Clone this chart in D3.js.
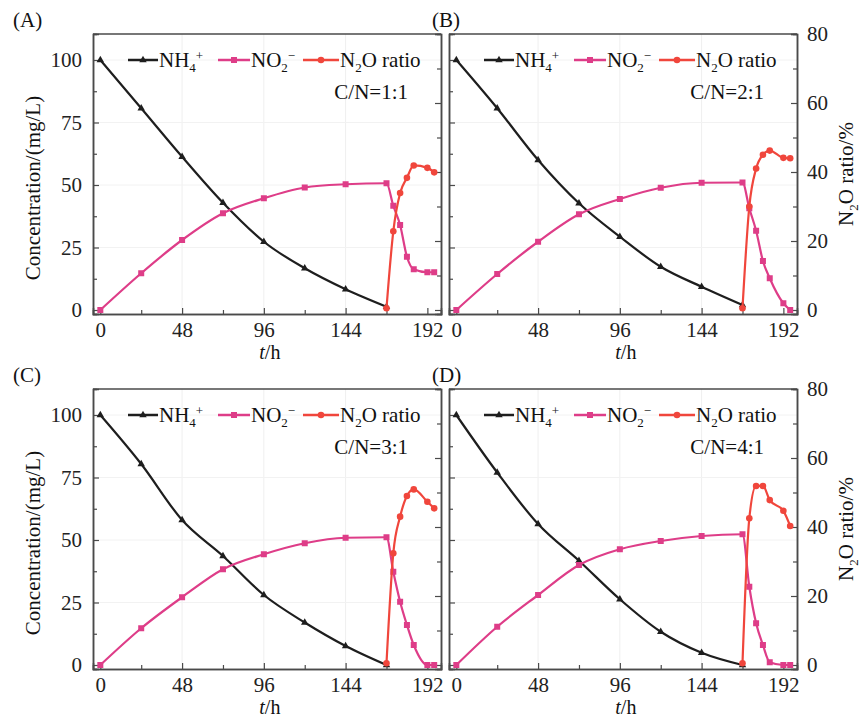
<!DOCTYPE html>
<html>
<head>
<meta charset="utf-8">
<script src="https://cdn.jsdelivr.net/npm/d3@7"></script>
<style>
  body { margin: 0; background: #fff; }
  svg { display: block; }
  svg text { font-family: "Liberation Serif", "Times New Roman", Tinos, "DejaVu Serif", serif; }
</style>
</head>
<body>
<svg id="chart" width="862" height="717"></svg>
<script>
// sampling times (h)
const hours = [0, 24, 48, 72, 96, 120, 144, 168];
const tailHours = [168, 172, 176, 180, 184, 192, 196];
const no2Hours = hours.concat(tailHours.slice(1));

// tick values
const xMajor = [0, 48, 96, 144, 192];
const xMinor = [24, 72, 120, 168];
const concMajor = [0, 25, 50, 75, 100];
const concMinor = [12.5, 37.5, 62.5, 87.5];
const ratioMajor = [0, 20, 40, 60, 80];
const ratioMinor = [10, 30, 50, 70];

const panelLetters = ["(A)", "(B)", "(C)", "(D)"];
const ratios = ["C/N=1:1", "C/N=2:1", "C/N=3:1", "C/N=4:1"];

// NH4+ (mg/L)
const nh4A = [100, 80.7, 61.3, 42.9, 27.3, 16.7, 8.3, 1.3];
const nh4B = [100, 80.7, 60, 42.7, 29.3, 17.3, 9.3, 2];
const nh4C = [100, 80.4, 58, 43.6, 28, 17, 7.6, 0];
const nh4D = [100, 77, 56.4, 41.7, 26.3, 13.3, 4.9, 0];

// NO2- (mg/L)
const no2A = [0, 14.7, 28, 38.7, 44.7, 49, 50.3, 50.7, 41.7, 34, 21.3, 16.3, 15.1, 15.1];
const no2B = [0, 14.4, 27.3, 38.3, 44.4, 48.9, 50.9, 51, 40.7, 31.7, 19.6, 12.7, 2.7, 0];
const no2C = [0, 14.7, 27.1, 38.3, 44.3, 48.7, 50.9, 51.1, 37.3, 25.3, 16, 8, 0, 0];
const no2D = [0, 15.3, 28, 40, 46.3, 49.6, 51.6, 52.3, 31.3, 16.7, 8, 1.1, 0, 0];

// N2O ratio (%)
const n2oA = [0.5, 22.8, 33.9, 38.3, 41.9, 41.2, 39.9];
const n2oB = [0.5, 30, 41, 45, 46.2, 44.1, 44];
const n2oC = [0.5, 32.4, 43, 49, 50.9, 47.3, 45.4];
const n2oD = [0.5, 42.5, 51.9, 51.9, 47.8, 44.7, 40.3];

const colors = { nh4: "#1e1e1e", no2: "#de3d88", n2o: "#f0463c", axis: "#4a4a4a" };
const serif = "'Liberation Serif', 'Times New Roman', Tinos, 'DejaVu Serif', serif";

const panels = [
  { nh4: nh4A, no2: no2A, n2o: n2oA, left: 93, top: 34, leftLabels: true },
  { nh4: nh4B, no2: no2B, n2o: n2oB, left: 449, top: 34, leftLabels: false },
  { nh4: nh4C, no2: no2C, n2o: n2oC, left: 93, top: 389, leftLabels: true },
  { nh4: nh4D, no2: no2D, n2o: n2oD, left: 449, top: 389, leftLabels: false }
];
const pw = 348, ph = 280;

const svg = d3.select("#chart");

function addSubSup(text, parts) {
  // parts: [string, kind] where kind is "", "sub" or "sup"
  let shift = 0;
  parts.forEach(([s, kind]) => {
    const target = kind === "sub" ? 5 : kind === "sup" ? -7 : 0;
    text.append("tspan")
      .attr("dy", target - shift)
      .attr("font-size", kind ? 13 : null)
      .text(s);
    shift = target;
  });
}

function marker(g, type, x, y, color) {
  if (type === "tri") {
    g.append("path")
      .attr("d", d3.symbol().type(d3.symbolTriangle).size(24)())
      .attr("transform", `translate(${x},${y})`)
      .attr("fill", color);
  } else if (type === "sq") {
    g.append("rect")
      .attr("x", x - 3).attr("y", y - 3)
      .attr("width", 6).attr("height", 6)
      .attr("fill", color);
  } else {
    g.append("circle")
      .attr("cx", x).attr("cy", y).attr("r", 3.3)
      .attr("fill", color);
  }
}

panels.forEach((p, i) => {
  const g = svg.append("g").attr("transform", `translate(${p.left},${p.top})`);

  const x = d3.scaleLinear().domain([-4.3, 200]).range([0, pw]);
  const yL = d3.scaleLinear().domain([-1.6, 110.4]).range([ph, 0]);
  const yR = d3.scaleLinear().domain([-1.16, 80]).range([ph, 0]);

  // faint grid
  g.append("g").selectAll("line").data(xMajor.slice(1, 4)).join("line")
    .attr("x1", d => x(d)).attr("x2", d => x(d))
    .attr("y1", 0).attr("y2", ph)
    .attr("stroke", "#efefef");
  g.append("g").selectAll("line").data(concMajor.slice(1)).join("line")
    .attr("x1", 0).attr("x2", pw)
    .attr("y1", d => yL(d)).attr("y2", d => yL(d))
    .attr("stroke", "#f2f2f2");

  // axes with inward ticks
  const bottom = g.append("g").attr("transform", `translate(0,${ph})`);
  bottom.call(d3.axisBottom(x).tickValues(xMajor).tickSize(-6).tickPadding(8));
  bottom.append("g").call(d3.axisBottom(x).tickValues(xMinor).tickSize(-4).tickFormat(""));

  const leftAx = g.append("g");
  leftAx.call(d3.axisLeft(yL).tickValues(concMajor).tickSize(-6).tickPadding(11)
    .tickFormat(p.leftLabels ? d3.format("d") : ""));
  leftAx.append("g").call(d3.axisLeft(yL).tickValues(concMinor).tickSize(-4).tickFormat(""));

  const rightAx = g.append("g").attr("transform", `translate(${pw},0)`);
  rightAx.call(d3.axisRight(yR).tickValues(ratioMajor).tickSize(-6).tickPadding(10)
    .tickFormat(p.leftLabels ? "" : d3.format("d")));
  rightAx.append("g").call(d3.axisRight(yR).tickValues(ratioMinor).tickSize(-4).tickFormat(""));

  g.append("line").attr("x1", 0).attr("x2", pw).attr("y1", 0).attr("y2", 0)
    .attr("stroke", colors.axis).attr("stroke-width", 1.5);

  g.selectAll(".domain").attr("stroke", colors.axis).attr("stroke-width", 1.5);
  g.selectAll(".tick line").attr("stroke", colors.axis).attr("stroke-width", 1.2);
  g.selectAll("g").attr("font-family", serif);
  g.selectAll(".tick text").attr("font-size", 21).attr("fill", "#222")
    .attr("font-family", serif);

  // series
  const line = (xs, ys, yScale) => d3.line()
    .x((d, k) => x(xs[k]))
    .y(d => yScale(d))
    .curve(d3.curveMonotoneX)(ys);

  const series = [
    { xs: hours, ys: p.nh4, scale: yL, color: colors.nh4, m: "tri" },
    { xs: no2Hours, ys: p.no2, scale: yL, color: colors.no2, m: "sq" },
    { xs: tailHours, ys: p.n2o, scale: yR, color: colors.n2o, m: "circ" }
  ];
  series.forEach(s => {
    g.append("path")
      .attr("d", line(s.xs, s.ys, s.scale))
      .attr("fill", "none")
      .attr("stroke", s.color)
      .attr("stroke-width", 2.2);
    const mg = g.append("g");
    s.ys.forEach((v, k) => marker(mg, s.m, x(s.xs[k]), s.scale(v), s.color));
  });

  // legend
  const lg = g.append("g").attr("font-size", 21).attr("fill", "#111").attr("font-family", serif);
  const legendItems = [
    { x0: 35, len: 30, color: colors.nh4, m: "tri", parts: [["NH", ""], ["4", "sub"], ["+", "sup"]] },
    { x0: 125, len: 32, color: colors.no2, m: "sq", parts: [["NO", ""], ["2", "sub"], ["\u2212", "sup"]] },
    { x0: 210, len: 36, color: colors.n2o, m: "circ", parts: [["N", ""], ["2", "sub"], ["O ratio", ""]] }
  ];
  legendItems.forEach(it => {
    lg.append("line")
      .attr("x1", it.x0).attr("x2", it.x0 + it.len)
      .attr("y1", 26).attr("y2", 26)
      .attr("stroke", it.color).attr("stroke-width", 2.5);
    marker(lg, it.m, it.x0 + it.len / 2, 26, it.color);
    const t = lg.append("text").attr("x", it.x0 + it.len + 1).attr("y", 33);
    addSubSup(t, it.parts);
  });

  g.append("text")
    .attr("x", pw - 33).attr("y", 65)
    .attr("text-anchor", "end")
    .attr("font-size", 21).attr("fill", "#111").attr("font-family", serif)
    .text(ratios[i]);

  // x title
  const xt = g.append("text")
    .attr("x", x(96) + 6).attr("y", ph + 45)
    .attr("text-anchor", "middle")
    .attr("font-size", 20).attr("fill", "#111").attr("font-family", serif);
  xt.append("tspan").attr("font-style", "italic").text("t");
  xt.append("tspan").text("/h");

  // panel letter
  svg.append("text")
    .attr("x", p.left - (p.leftLabels ? 80 : 17)).attr("y", p.top - 7)
    .attr("font-size", 21).attr("fill", "#111").attr("font-family", serif)
    .text(panelLetters[i]);

  if (p.leftLabels) {
    svg.append("text")
      .attr("transform", `translate(40,${p.top + 154}) rotate(-90)`)
      .attr("text-anchor", "middle")
      .attr("font-size", 21).attr("fill", "#111").attr("font-family", serif)
      .text("Concentration/(mg/L)");
  } else {
    const rt = svg.append("text")
      .attr("transform", `translate(853,${p.top + 140}) rotate(-90)`)
      .attr("text-anchor", "middle")
      .attr("font-size", 21).attr("fill", "#111").attr("font-family", serif);
    addSubSup(rt, [["N", ""], ["2", "sub"], ["O ratio/%", ""]]);
  }
});
</script>
</body>
</html>
